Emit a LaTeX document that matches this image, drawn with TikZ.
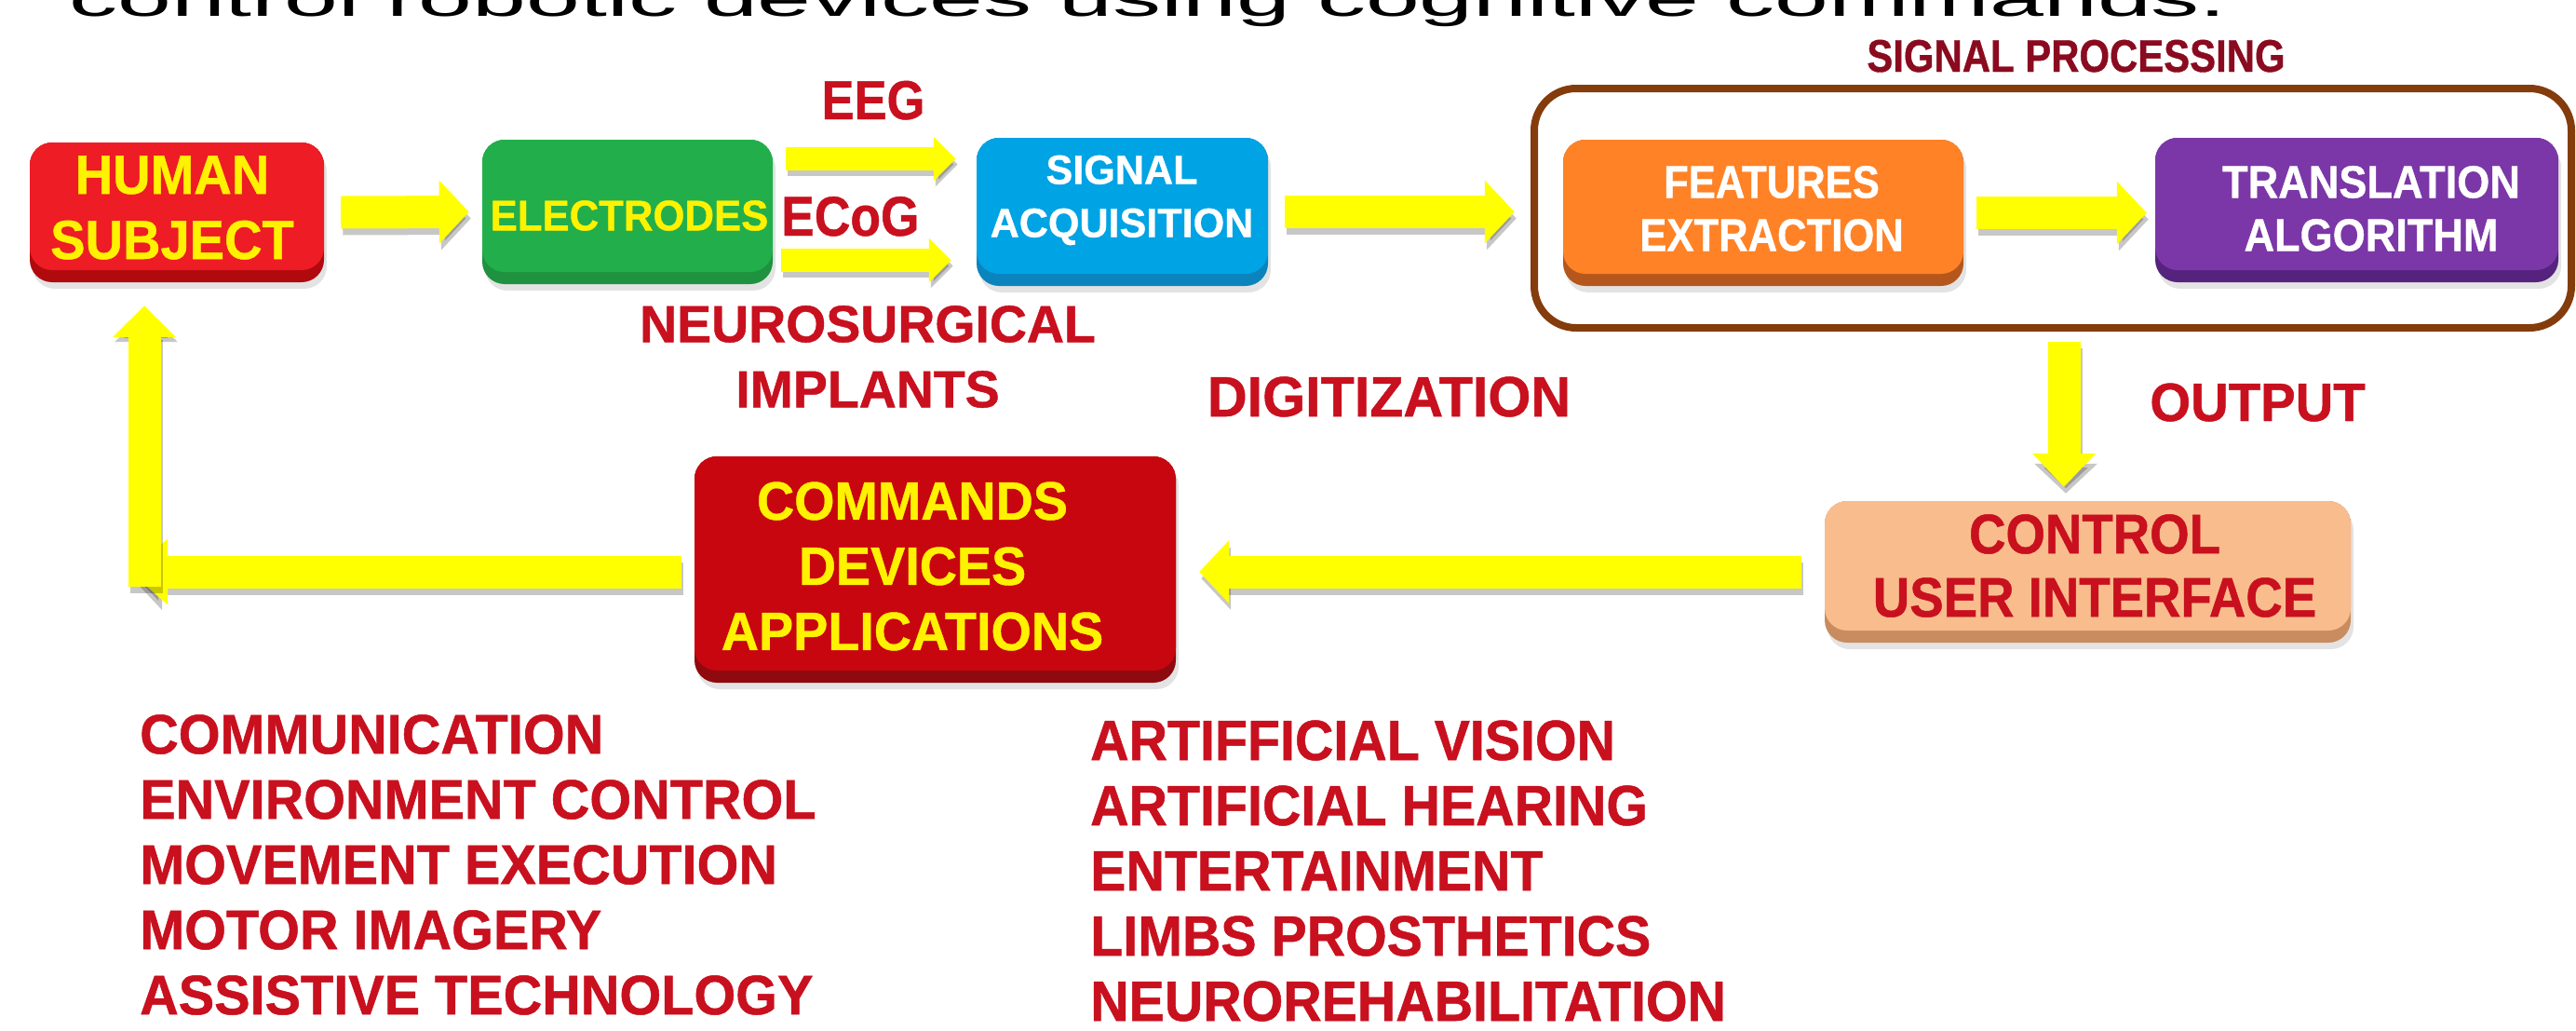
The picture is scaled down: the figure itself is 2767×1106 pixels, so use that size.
\documentclass[tikz,border=0pt]{standalone}
\usepackage{fontspec}
\setmainfont{Liberation Sans}
\newfontfamily\heavy{Liberation Sans}
\usetikzlibrary{arrows.meta,calc,shadows}

% heavy capitals: size, line skip, horizontal stretch
\newcommand\capsfont[3]{\heavy\bfseries\fontsize{#1}{#2}\selectfont\addfontfeature{FakeStretch=#3,FakeBold=0.8}}

\definecolor{ylw}{HTML}{FFFF00}
\definecolor{ylwtxt}{HTML}{FFF200}
\definecolor{txtred}{HTML}{C8101E}
\definecolor{spred}{HTML}{8A0B1F}
\definecolor{framebrown}{HTML}{843C0C}
\definecolor{hsTop}{HTML}{EE1C25}
\definecolor{hsBand}{HTML}{B00A0E}
\definecolor{elTop}{HTML}{22AF4B}
\definecolor{elBand}{HTML}{1F9240}
\definecolor{saTop}{HTML}{00A3E4}
\definecolor{saBand}{HTML}{0B84BE}
\definecolor{feTop}{HTML}{FF8226}
\definecolor{feBand}{HTML}{B5571C}
\definecolor{taTop}{HTML}{7B37A7}
\definecolor{taBand}{HTML}{55237E}
\definecolor{uiTop}{HTML}{F9BC8D}
\definecolor{uiBand}{HTML}{C98B60}
\definecolor{cdTop}{HTML}{C8060F}
\definecolor{cdBand}{HTML}{8E0A0E}

\tikzset{
  blk/.style 2 args={fill=#2, rounded corners=24pt, inner sep=0pt,
    drop shadow={shadow xshift=3pt, shadow yshift=-7pt, opacity=0.22},
    path picture={\fill[#1] (path picture bounding box.north west)
      rectangle ([yshift=13pt]path picture bounding box.south east);}},
  txt/.style={inner sep=0pt, align=center},
  lbl/.style={inner sep=0pt, text=txtred},
  yarrow/.style={draw=ylw, line width=35pt, -{Triangle[length=32pt,width=66pt]},
    preaction={draw=black, opacity=0.22, line width=35pt,
      -{Triangle[length=32pt,width=66pt]}, transform canvas={shift={(2pt,-7pt)}}}},
  sarrow/.style={draw=ylw, line width=25pt, -{Triangle[length=24pt,width=46pt]},
    preaction={draw=black, opacity=0.22, line width=25pt,
      -{Triangle[length=24pt,width=46pt]}, transform canvas={shift={(2pt,-6pt)}}}},
}

\begin{document}
\begin{tikzpicture}[x=1pt,y=-1pt]
\useasboundingbox (0,0) rectangle (2767,1106);
\clip (0,0) rectangle (2767,1106);

% heading line running off the top edge
\node[anchor=base west, inner sep=0pt, font=\fontsize{104}{110}\selectfont] (title)
  at (74,17) {\scalebox{1}[0.52]{control robotic devices using cognitive commands.}};

% signal processing frame
\node[draw=framebrown, line width=8pt, rounded corners=45pt, inner sep=0pt,
  minimum width=1114pt, minimum height=257pt] (sp) at (2205,223.5) {};
\node[inner sep=0pt, text=spred, font=\capsfont{49}{57}{0.855}, anchor=base] (spT)
  at (2230,77) {SIGNAL PROCESSING};

% blocks
\node[blk={hsTop}{hsBand}, minimum width=316pt, minimum height=150pt] (hs) at (190,228) {};
\node[blk={elTop}{elBand}, minimum width=312pt, minimum height=155pt] (el) at (674,227.5) {};
\node[blk={saTop}{saBand}, minimum width=313pt, minimum height=159pt] (sa) at (1205.5,227.5) {};
\node[blk={feTop}{feBand}, minimum width=430pt, minimum height=157pt] (fe) at (1894,228.5) {};
\node[blk={taTop}{taBand}, minimum width=433pt, minimum height=155pt] (ta) at (2531.5,225.5) {};
\node[blk={uiTop}{uiBand}, minimum width=565pt, minimum height=152pt] (ui) at (2242.5,614) {};
\node[blk={cdTop}{cdBand}, minimum width=517pt, minimum height=243pt] (cd) at (1004.5,611.5) {};

% block texts
\node[txt, text=ylwtxt, font=\capsfont{59}{70}{0.95}] (hsT) at (185,223) {HUMAN\\SUBJECT};
\node[txt, text=ylwtxt, font=\capsfont{46}{55}{0.95}] (elT) at (676,231.5) {ELECTRODES};
\node[txt, text=white, font=\capsfont{44}{57}{0.98}] (saT) at (1205,215) {SIGNAL\\ACQUISITION};
\node[txt, text=white, font=\capsfont{49}{57}{0.89}] (feT) at (1903,224) {FEATURES\\EXTRACTION};
\node[txt, text=white, font=\capsfont{49}{57}{0.92}] (taT) at (2547,224) {TRANSLATION\\ALGORITHM};
\node[txt, text=ylwtxt, font=\capsfont{58}{70}{0.96}] (cdT) at (980,608) {COMMANDS\\DEVICES\\APPLICATIONS};
\node[txt, text=txtred, font=\capsfont{60}{68}{0.91}] (uiT) at (2250,607.5) {CONTROL\\USER INTERFACE};

% stage labels
\node[lbl, font=\capsfont{59}{70}{0.89}, anchor=base] (eeg) at (938,128) {EEG};
\node[lbl, font=\capsfont{60}{70}{0.89}, anchor=base west] (ecog) at (839,253) {ECoG};
\node[lbl, align=center, font=\capsfont{56}{70}{0.99}] (neuro) at (932,383) {NEUROSURGICAL\\IMPLANTS};
\node[lbl, font=\capsfont{61}{70}{0.97}, anchor=base] (digit) at (1492,447) {DIGITIZATION};
\node[lbl, font=\capsfont{58}{70}{0.97}, anchor=base] (outp) at (2425,452) {OUTPUT};

% application lists
\node[lbl, align=left, anchor=west, font=\capsfont{60}{70}{0.96}] (listA) at (150,928.5)
  {COMMUNICATION\\ENVIRONMENT CONTROL\\MOVEMENT EXECUTION\\MOTOR IMAGERY\\ASSISTIVE TECHNOLOGY};
\node[lbl, align=left, anchor=west, font=\capsfont{61}{70}{0.94}] (listB) at (1171,935)
  {ARTIFFICIAL VISION\\ARTIFICIAL HEARING\\ENTERTAINMENT\\LIMBS PROSTHETICS\\NEUROREHABILITATION};

% connectors
\draw[yarrow] ([xshift=18pt]hs.east) -- ([xshift=-14pt]el.west);
\draw[sarrow] ([xshift=14pt,yshift=57pt]el.east) -- ([xshift=-22pt,yshift=57pt]sa.west);
\draw[sarrow] ([xshift=9pt,yshift=-52pt]el.east) -- ([xshift=-27pt,yshift=-52pt]sa.west);
\draw[yarrow] ([xshift=18pt]sa.east) -- ([xshift=-52pt]sa.east -| fe.west);
\draw[yarrow] ([xshift=14pt]fe.east) -- ([xshift=-9pt]fe.east -| ta.west);

\coordinate (outx) at (2217,0);
\draw[yarrow, -{Triangle[length=36pt,width=66pt]}]
  ($(outx |- sp.south)+(0,11)$) -- ($(outx |- ui.north)+(0,-15)$);

\draw[yarrow] ([xshift=-25pt]ui.west) -- ([xshift=25pt]ui.west -| cd.east);

\coordinate (fbend) at (140,614);
\coordinate (fbase) at (155,630);
\draw[yarrow, -{Triangle[length=40pt,width=68pt]}] ([xshift=-14pt,yshift=-2.5pt]cd.west) -- (fbend);
\draw[yarrow, -{Triangle[length=34pt,width=66pt]}] (fbase) -- ($(fbase |- hs.south)+(0,25)$);
\end{tikzpicture}
\end{document}
